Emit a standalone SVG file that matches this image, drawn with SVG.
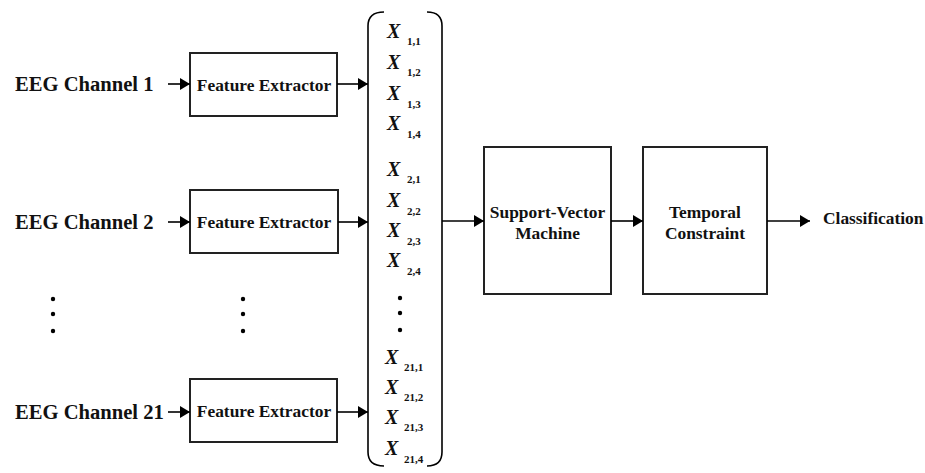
<svg xmlns="http://www.w3.org/2000/svg" width="925" height="473" viewBox="0 0 925 473">
<defs>
<marker id="ah" markerUnits="userSpaceOnUse" markerWidth="10" markerHeight="14" viewBox="0 0 10 14" refX="10" refY="7" orient="auto">
<path d="M0,1 L10,7 L0,13 Z" fill="#000"/>
</marker>
<style>
.box{fill:#fff;stroke:#222;stroke-width:2}
.lbl{font-family:'Liberation Serif','Times New Roman',serif;font-weight:bold;fill:#111}
.big{font-size:20.6px}
.mid{font-size:17.4px}
.xv{font-family:'Liberation Serif','Times New Roman',serif;font-weight:bold;font-style:italic;font-size:20px;fill:#111}
.sub{font-family:'Liberation Serif','Times New Roman',serif;font-weight:bold;font-size:11px;fill:#111}
.conn{stroke:#000;stroke-width:1.6;fill:none}
.dot{fill:#000}
</style>
</defs>
<rect width="925" height="473" fill="#fff"/>

<g id="ch1"><text class="lbl big" x="15" y="91">EEG Channel 1</text></g>
<g id="ch2"><text class="lbl big" x="15" y="229">EEG Channel 2</text></g>
<g id="ch21"><text class="lbl big" x="15" y="419">EEG Channel 21</text></g>

<g id="fe1"><rect class="box" x="190" y="53" width="147" height="63"/><text class="lbl mid" x="264" y="90.5" text-anchor="middle">Feature Extractor</text></g>
<g id="fe2"><rect class="box" x="190" y="190" width="148" height="63"/><text class="lbl mid" x="264" y="227.5" text-anchor="middle">Feature Extractor</text></g>
<g id="fe21"><rect class="box" x="190" y="379" width="147" height="63"/><text class="lbl mid" x="264" y="417" text-anchor="middle">Feature Extractor</text></g>

<g id="dots-left">
<circle class="dot" cx="53" cy="299" r="2.2"/><circle class="dot" cx="53" cy="314" r="2.2"/><circle class="dot" cx="53" cy="331" r="2.2"/>
<circle class="dot" cx="243" cy="299" r="2.2"/><circle class="dot" cx="243" cy="314" r="2.2"/><circle class="dot" cx="243" cy="331" r="2.2"/>
</g>

<g id="vector">
<path class="conn" d="M384,12 Q368,12 368,26 L368,452 Q368,466 384,466"/>
<path class="conn" d="M427,12 Q442,12 442,26 L442,452 Q442,466 427,466"/>
<text class="xv" x="387" y="37.5">X</text><text class="sub" x="407" y="45">1,1</text>
<text class="xv" x="387" y="68.5">X</text><text class="sub" x="407" y="76">1,2</text>
<text class="xv" x="387" y="100">X</text><text class="sub" x="407" y="107.5">1,3</text>
<text class="xv" x="387" y="130">X</text><text class="sub" x="407" y="137.5">1,4</text>
<text class="xv" x="387" y="175.5">X</text><text class="sub" x="407" y="183">2,1</text>
<text class="xv" x="387" y="207">X</text><text class="sub" x="407" y="214.5">2,2</text>
<text class="xv" x="387" y="237">X</text><text class="sub" x="407" y="244.5">2,3</text>
<text class="xv" x="387" y="267">X</text><text class="sub" x="407" y="274.5">2,4</text>
<circle class="dot" cx="400" cy="298" r="2.2"/><circle class="dot" cx="400" cy="313" r="2.2"/><circle class="dot" cx="400" cy="330" r="2.2"/>
<text class="xv" x="385" y="363.5">X</text><text class="sub" x="404" y="371">21,1</text>
<text class="xv" x="385" y="393.5">X</text><text class="sub" x="404" y="401">21,2</text>
<text class="xv" x="385" y="423.5">X</text><text class="sub" x="404" y="431">21,3</text>
<text class="xv" x="385" y="455">X</text><text class="sub" x="404" y="462.5">21,4</text>
</g>

<g id="svm"><rect class="box" x="484" y="147" width="127" height="147"/>
<text class="lbl mid" x="547.5" y="218" text-anchor="middle">Support-Vector</text>
<text class="lbl mid" x="547.5" y="239" text-anchor="middle">Machine</text></g>
<g id="temporal"><rect class="box" x="643" y="147" width="124" height="147"/>
<text class="lbl mid" x="705" y="218" text-anchor="middle">Temporal</text>
<text class="lbl mid" x="705" y="239" text-anchor="middle">Constraint</text></g>
<g id="classification"><text class="lbl mid" x="823" y="223.5">Classification</text></g>

<g id="connectors">
<line class="conn" x1="168" y1="84" x2="190" y2="84" marker-end="url(#ah)"/>
<line class="conn" x1="168" y1="222" x2="190" y2="222" marker-end="url(#ah)"/>
<line class="conn" x1="168" y1="412" x2="190" y2="412" marker-end="url(#ah)"/>
<line class="conn" x1="337" y1="84" x2="368" y2="84" marker-end="url(#ah)"/>
<line class="conn" x1="338" y1="222" x2="368" y2="222" marker-end="url(#ah)"/>
<line class="conn" x1="337" y1="412" x2="368" y2="412" marker-end="url(#ah)"/>
<line class="conn" x1="442" y1="221" x2="484" y2="221" marker-end="url(#ah)"/>
<line class="conn" x1="611" y1="221" x2="643" y2="221" marker-end="url(#ah)"/>
<line class="conn" x1="767" y1="221" x2="810" y2="221" marker-end="url(#ah)"/>
</g>
</svg>
